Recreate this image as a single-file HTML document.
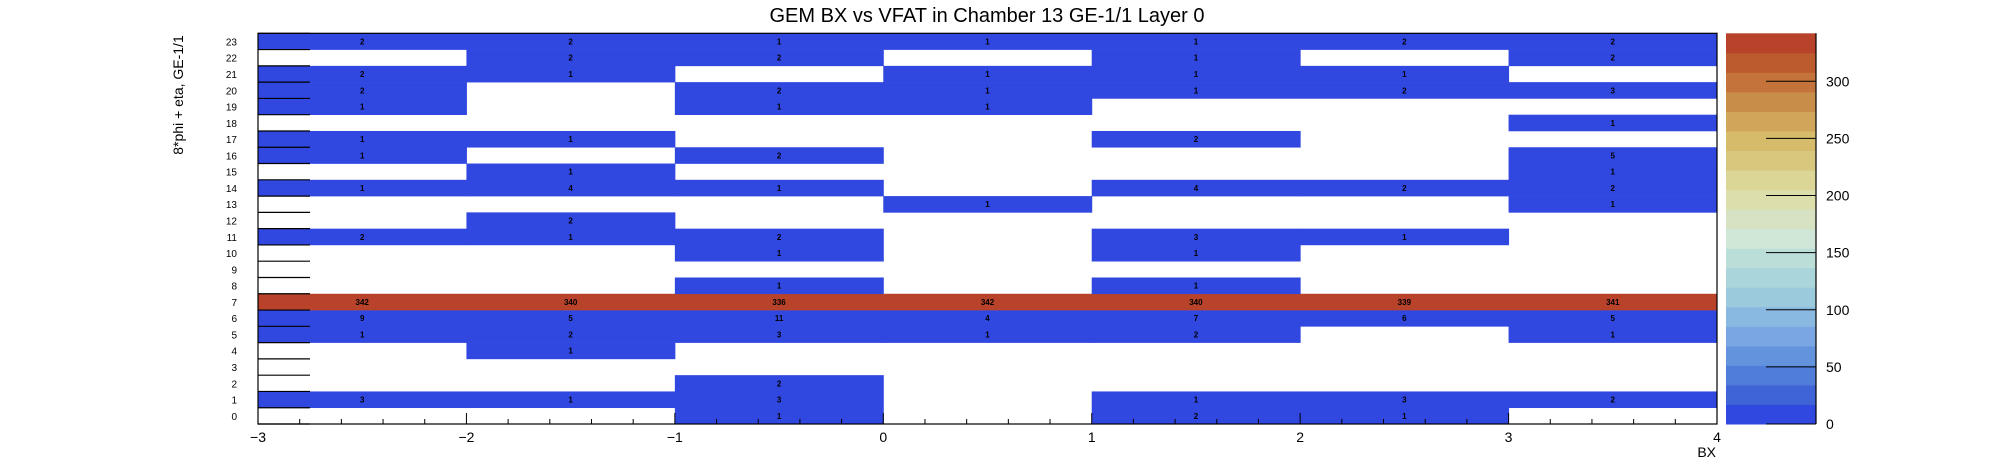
<!DOCTYPE html>
<html><head><meta charset="utf-8"><style>
body{margin:0;background:#fff;}
svg{display:block;font-family:"Liberation Sans",sans-serif;}
</style></head><body>
<svg id="chart" width="1996" height="472" xmlns="http://www.w3.org/2000/svg">
<text x="987" y="22" font-size="20" text-anchor="middle">GEM BX vs VFAT in Chamber 13 GE-1/1 Layer 0</text>
<text transform="translate(183,95) rotate(-90)" font-size="14" text-anchor="middle">8*phi + eta, GE-1/1</text>
<text x="1716" y="457" font-size="14" text-anchor="end">BX</text>
<g id="cells"></g><g id="axes"></g><g id="pal"></g>
</svg>
<script>
const xEdges=[-3,-2,-1,0,1,2,3,4];
const xTicks=[-3,-2,-1,0,1,2,3,4];
const rowIds=[0,1,2,3,4,5,6,7,8,9,10,11,12,13,14,15,16,17,18,19,20,21,22,23];
const counts=[
[0,0,1,0,2,1,0],
[3,1,3,0,1,3,2],
[0,0,2,0,0,0,0],
[0,0,0,0,0,0,0],
[0,1,0,0,0,0,0],
[1,2,3,1,2,0,1],
[9,5,11,4,7,6,5],
[342,340,336,342,340,339,341],
[0,0,1,0,1,0,0],
[0,0,0,0,0,0,0],
[0,0,1,0,1,0,0],
[2,1,2,0,3,1,0],
[0,2,0,0,0,0,0],
[0,0,0,1,0,0,1],
[1,4,1,0,4,2,2],
[0,1,0,0,0,0,1],
[1,0,2,0,0,0,5],
[1,1,0,0,2,0,0],
[0,0,0,0,0,0,1],
[1,0,1,1,0,0,0],
[2,0,2,1,1,2,3],
[2,1,0,1,1,1,0],
[0,2,2,0,1,0,2],
[2,2,1,1,1,2,2]
];
const zTicks=[0,50,100,150,200,250,300];
const zMax=342;
const palette=["#3047e0","#3e64d8","#4f7dd9","#6393dd","#7aa6e3","#89b8e0","#9acadc","#aad5db","#bcded9","#d0e6d6","#d6e2c2","#dcdeac","#dbd596","#d9c77e","#d6bb6a","#d1a65a","#c98d4a","#c4743a","#bc5c2e","#b8432a"];

const NS="http://www.w3.org/2000/svg";
const L=258,R=1717,T=33.3,B=424;
const X=v=>L+(v+3)/7*(R-L);
const Y=v=>B-v/24*(B-T);
const PX0=1726,PX1=1816;
const Z=v=>B-v/zMax*(B-T);
function mk(tag,attrs,parent){const e=document.createElementNS(NS,tag);for(const k in attrs)e.setAttribute(k,attrs[k]);parent.appendChild(e);return e;}
const cells=document.getElementById('cells'),axes=document.getElementById('axes'),pal=document.getElementById('pal');
function col(v){let i=Math.floor(v/zMax*palette.length);if(i>=palette.length)i=palette.length-1;return palette[i];}
counts.forEach((row,ri)=>{
  row.forEach((v,ci)=>{
    if(!v)return;
    const x0=X(xEdges[ci]),x1=X(xEdges[ci+1]),y0=Y(rowIds[ri]+1),y1=Y(rowIds[ri]);
    const r=mk('rect',{x:x0,y:y0,width:x1-x0+0.5,height:y1-y0+0.3,fill:col(v)},cells);
    
    
    const t=mk('text',{x:(x0+x1)/2,y:(y0+y1)/2+3,'font-size':8,'font-weight':'bold','text-anchor':'middle'},cells);
    t.textContent=v;
    
    
  });
});
// frame
const fr=mk('rect',{x:L,y:T,width:R-L,height:B-T,fill:'none',stroke:'#000','stroke-width':1.2},axes);


// y ticks and labels
for(let i=0;i<=24;i++){
  const ln=mk('line',{x1:L,x2:L+52,y1:Y(i),y2:Y(i),stroke:'#000','stroke-width':1.2},axes);
  
  
}
rowIds.forEach(r=>{
  const t=mk('text',{x:237,y:(Y(r)+Y(r+1))/2+4,'font-size':10,'text-anchor':'end'},axes);
  t.textContent=r;
  
  
});
// x ticks
for(let k=0;k<=35;k++){
  const v=-3+k*0.2,major=k%5===0;
  const ln=mk('line',{x1:X(v),x2:X(v),y1:B,y2:B-(major?11:5),stroke:'#000','stroke-width':1},axes);
  
  
}
xTicks.forEach(v=>{
  const t=mk('text',{x:X(v),y:442,'font-size':14,'text-anchor':'middle'},axes);
  t.textContent=v<0?'\u2212'+(-v):v;
  
  
});
// palette
palette.forEach((c,i)=>{
  const z0=i*zMax/palette.length,z1=(i+1)*zMax/palette.length;
  const r=mk('rect',{x:PX0,y:Z(z1),width:PX1-PX0,height:Z(z0)-Z(z1)+0.5,fill:c},pal);
  
  
});
const ax=mk('line',{x1:PX1,x2:PX1,y1:T,y2:B,stroke:'#000','stroke-width':1.2},pal);


zTicks.forEach(v=>{
  const ln=mk('line',{x1:PX1-50,x2:PX1,y1:Z(v),y2:Z(v),stroke:'#000','stroke-width':1},pal);
  
  
  const t=mk('text',{x:1826,y:Z(v)+5,'font-size':14},pal);
  t.textContent=v;
  
  
});
</script>
</body></html>
